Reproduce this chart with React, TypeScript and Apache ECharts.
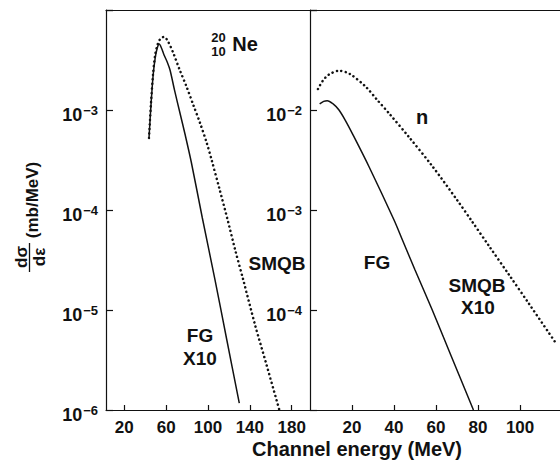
import React, { useEffect, useRef } from "react";
import * as echarts from "echarts";

// ---- data ----
// Left panel: 20/10 Ne, channel energy (MeV) vs dσ/dε (mb/MeV)
const neFgX = [43.6, 45.5, 47.5, 49.5, 51.5, 53.4, 55.5, 58, 61, 63.7, 68, 73.2, 78, 84, 94.6, 106.7, 118, 129.9];
const neFgY = [5.25e-4, 1.12e-3, 2.19e-3, 3.31e-3, 4.17e-3, 4.57e-3, 4.17e-3, 3.55e-3, 3.02e-3, 2.51e-3, 1.58e-3, 9.33e-4, 5.75e-4, 3.02e-4, 8.32e-5, 2.0e-5, 5.01e-6, 1.17e-6];

const neSmqbX = [43.6, 45.5, 47.5, 49.5, 52, 55, 58.2, 62, 66.8, 73, 79.6, 86, 92.4, 98.8, 103.5, 111, 118.8, 126, 133.7, 145, 156, 168.2];
const neSmqbY = [5.25e-4, 1.17e-3, 2.29e-3, 3.55e-3, 4.57e-3, 5.25e-3, 5.37e-3, 4.79e-3, 3.72e-3, 2.51e-3, 1.7e-3, 1.12e-3, 7.41e-4, 4.68e-4, 3.16e-4, 1.62e-4, 7.94e-5, 3.98e-5, 2.0e-5, 7.08e-6, 2.82e-6, 1.0e-6];

// Right panel: neutrons
const nFgX = [4.6, 6.5, 8.2, 11, 13.8, 17, 20.1, 28.1, 40, 44, 50, 58.2, 67, 77.8];
const nFgY = [1.15e-2, 1.22e-2, 1.24e-2, 1.15e-2, 1.0e-2, 7.76e-3, 5.85e-3, 2.71e-3, 7.94e-4, 5.01e-4, 2.51e-4, 1.0e-4, 3.55e-5, 1.0e-5];

const nSmqbX = [3.8, 6, 9, 13.8, 19, 26.5, 32, 37.6, 47.1, 58.2, 70, 77, 85.2, 94.8, 104.3, 117];
const nSmqbY = [1.62e-2, 1.95e-2, 2.26e-2, 2.47e-2, 2.29e-2, 1.71e-2, 1.26e-2, 9.27e-3, 5.37e-3, 2.75e-3, 1.26e-3, 7.76e-4, 4.37e-4, 2.24e-4, 1.15e-4, 4.68e-5];

const leftXTicks = [20, 60, 100, 140, 180];
const rightXTicks = [20, 40, 60, 80, 100];
const leftYLabelExps = [-3, -4, -5, -6];
const rightYLabelExps = [-2, -3, -4];

const FONT = "'Liberation Sans', Arial, Helvetica, sans-serif";
const INK = "#111";

const zip = (xs: number[], ys: number[]) => xs.map((x, i) => [x, ys[i]]);

function logFormatter(allowed: number[]) {
  return (v: number) => {
    const e = Math.round(Math.log10(v));
    if (allowed.indexOf(e) < 0) return "";
    return `{b|10}{s|\u2212${-e}}`;
  };
}

const richLabels = {
  b: { fontSize: 18, fontWeight: "bold", fontFamily: FONT, color: INK, lineHeight: 20, verticalAlign: "bottom" },
  s: { fontSize: 13, fontWeight: "bold", fontFamily: FONT, color: INK, lineHeight: 8, verticalAlign: "top", padding: [0, 0, 0, 1] },
};

export default function App() {
  const ref = useRef<HTMLDivElement>(null);

  useEffect(() => {
    document.body.style.margin = "0";
    if (!ref.current) return;
    const chart = echarts.init(ref.current, undefined, { renderer: "svg" });

    const axisLine = { show: true, lineStyle: { color: INK, width: 1.2 } };

    const xBottom = (gridIndex: number, min: number, max: number, ticks: number[]) => ({
      type: "value",
      gridIndex,
      min,
      max,
      position: "bottom",
      axisLine,
      splitLine: { show: false },
      axisTick: { show: true, inside: true, length: 5, customValues: ticks, lineStyle: { color: INK, width: 1.2 } },
      axisLabel: {
        customValues: ticks,
        fontSize: 17,
        fontWeight: "bold",
        fontFamily: FONT,
        color: INK,
        margin: 9,
      },
    });
    const xTop = (gridIndex: number, min: number, max: number) => ({
      type: "value",
      gridIndex,
      min,
      max,
      position: "top",
      axisLine,
      axisTick: { show: false },
      axisLabel: { show: false },
      splitLine: { show: false },
    });
    const yLog = (gridIndex: number, min: number, max: number, exps: number[]) => ({
      type: "log",
      logBase: 10,
      gridIndex,
      min,
      max,
      axisLine,
      splitLine: { show: false },
      minorTick: { show: false },
      axisTick: { show: true, inside: true, length: 7, lineStyle: { color: INK, width: 1.2 } },
      axisLabel: {
        formatter: logFormatter(exps),
        rich: richLabels,
        margin: 8,
        padding: [8, 0, 0, 0],
        showMinLabel: true,
        showMaxLabel: true,
      },
    });

    const solid = { color: INK, width: 1.5 };
    const dotted = { color: INK, width: 2.5, type: [0.1, 4.4], cap: "round" };

    const text = (t: string, x: number, y: number, size: number, extra: any = {}) => ({
      type: "text",
      x,
      y,
      ...extra,
      style: {
        text: t,
        fontSize: size,
        fontWeight: "bold",
        fontFamily: FONT,
        fill: INK,
        align: "center",
        verticalAlign: "middle",
      },
    });

    chart.setOption({
      animation: false,
      backgroundColor: "#fff",
      grid: [
        { left: 106, top: 10, width: 204, height: 400, show: false },
        { left: 310, top: 10, width: 250, height: 400, show: false },
      ],
      xAxis: [
        xBottom(0, 2.5, 197.5, leftXTicks),
        xTop(0, 2.5, 197.5),
        xBottom(1, 0, 119, rightXTicks),
        xTop(1, 0, 119),
      ],
      yAxis: [yLog(0, 1e-6, 1e-2, leftYLabelExps), yLog(1, 1e-5, 1e-1, rightYLabelExps)],
      series: [
        { type: "line", xAxisIndex: 0, yAxisIndex: 0, data: zip(neFgX, neFgY), showSymbol: false, smooth: 0.3, lineStyle: solid },
        { type: "line", xAxisIndex: 0, yAxisIndex: 0, data: zip(neSmqbX, neSmqbY), showSymbol: false, smooth: 0.3, lineStyle: dotted },
        { type: "line", xAxisIndex: 2, yAxisIndex: 1, data: zip(nFgX, nFgY), showSymbol: false, smooth: 0.3, lineStyle: solid },
        { type: "line", xAxisIndex: 2, yAxisIndex: 1, data: zip(nSmqbX, nSmqbY), showSymbol: false, smooth: 0.3, lineStyle: dotted },
      ],
      graphic: [
        // nuclide label
        text("20", 218.5, 37, 13),
        text("10", 218.5, 51.5, 13),
        text("Ne", 245, 44, 20),
        // left panel annotations
        text("SMQB", 277, 263, 19),
        text("FG", 200, 335, 19),
        text("X10", 200, 358, 19),
        // right panel annotations
        text("n", 422, 117, 20),
        text("FG", 377, 262, 19),
        text("SMQB", 477, 285, 19),
        text("X10", 478, 307, 19),
        // axis titles
        text("Channel energy (MeV)", 357, 449, 20),
        text("(mb/MeV)", 32, 200, 17, { rotation: Math.PI / 2 }),
        text("d\u03c3", 21.5, 257, 17, { rotation: Math.PI / 2 }),
        text("d\u03b5", 39, 257, 17, { rotation: Math.PI / 2 }),
        {
          type: "line",
          shape: { x1: 29.5, y1: 243, x2: 29.5, y2: 272 },
          style: { stroke: INK, lineWidth: 1.3 },
        },
      ],
    });

    return () => chart.dispose();
  }, []);

  return <div ref={ref} style={{ width: 560, height: 462 }} />;
}
